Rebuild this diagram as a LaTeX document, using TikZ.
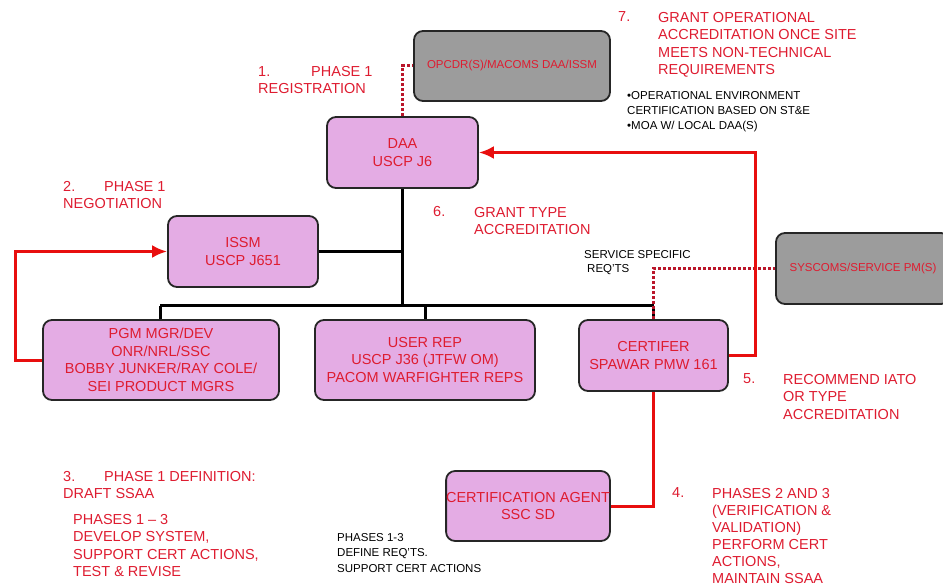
\documentclass[tikz,border=0pt]{standalone}
\usepackage{fontspec}
\setmainfont{Liberation Sans}
\usepackage{tikz}
\usetikzlibrary{arrows.meta}
\definecolor{labelred}{RGB}{222,28,48}
\definecolor{boxpink}{RGB}{228,172,228}
\definecolor{boxgrey}{RGB}{156,156,156}
\definecolor{linered}{RGB}{232,14,14}
\definecolor{dotred}{RGB}{186,22,42}
\tikzset{box/.style = {draw=black!85, line width=1.8pt, rounded corners=9pt, fill=boxpink,
                       text=labelred, align=center, inner sep=0,
                       font=\fontsize{14.5}{17.5}\selectfont}}
\tikzset{greybox/.style = {box, fill=boxgrey, font=\fontsize{11.5}{14}\selectfont}}
\tikzset{redlabel/.style = {text=labelred, align=left, anchor=north west, inner sep=0,
                            font=\fontsize{14.5}{17.5}\selectfont}}
\tikzset{numlabel/.style = {redlabel, anchor=west}}
\tikzset{note/.style = {text=black, align=left, anchor=north west, inner sep=0,
                        font=\fontsize{11.5}{15}\selectfont}}
\tikzset{tree/.style = {line width=3pt}}
\tikzset{redline/.style = {draw=linered, line width=3pt}}
\tikzset{reddots/.style = {draw=dotred, line width=3pt, dotted}}
\tikzset{redarrow/.style = {redline, -{Latex[length=15pt,width=13pt]}}}

\begin{document}
\begin{tikzpicture}[x=1pt, y=-1pt]
    \useasboundingbox (0, 0) rectangle (943, 588);

    \node [greybox, minimum width=196, minimum height=70] (opcdr) at (512, 66) {OPCDR(S)/MACOMS DAA/ISSM};
    \node [box, minimum width=151, minimum height=71] (daa) at (402.5, 152.5) {DAA\\USCP J6};
    \node [box, minimum width=150, minimum height=71] (issm) at (243, 251.5) {ISSM\\USCP J651};
    \node [box, minimum width=236, minimum height=80] (pgm) at (161, 360) {PGM MGR/DEV\\ONR/NRL/SSC\\BOBBY JUNKER/RAY COLE/\\SEI PRODUCT MGRS};
    \node [box, minimum width=220, minimum height=80] (userrep) at (425, 360) {USER REP\\USCP J36 (JTFW OM)\\PACOM WARFIGHTER REPS};
    \node [box, minimum width=149, minimum height=71] (certifer) at (653.5, 355.5) {CERTIFER\\SPAWAR PMW 161};
    \node [greybox, minimum width=174, minimum height=71] (syscoms) at (863, 268.5) {SYSCOMS/SERVICE PM(S)};
    \node [box, minimum width=162, minimum height=70] (agent) at (528, 506) {CERTIFICATION AGENT\\SSC SD};

    \coordinate (busleft) at (160, 306);
    \coordinate (busright) at (653.5, 306);
    \coordinate (redup) at (755, 152.5);
    \coordinate (redleft) at (15, 251.5);

    \draw [tree] (daa.south) -- (daa.south |- busleft);
    \draw [tree] (issm.east) -- (issm.east -| daa.south);
    \draw [tree] (busleft) -- (busright);
    \draw [tree] (busleft) -- (busleft |- pgm.north);
    \draw [tree] (userrep.north) -- (userrep.north |- busleft);
    \draw [tree] (busright) -- (certifer.north);

    \draw [reddots] (daa.north) |- (opcdr.west);
    \draw [reddots] (certifer.north) |- (syscoms.west);

    \draw [redarrow] (certifer.east) -| (redup) -- (daa.east);
    \draw [redarrow, {Latex[length=15pt,width=13pt]}-] (issm.west) -- (redleft) |- (pgm.west);
    \draw [redline] (certifer.south) |- (agent.east);

    \node [redlabel] (phase1reg) at (258, 66) {\makebox[53pt][l]{1.}PHASE 1\\REGISTRATION};
    \node [redlabel] (phase1neg) at (63, 181) {\makebox[41pt][l]{2.}PHASE 1\\NEGOTIATION};
    \node [redlabel] (phase1def) at (63, 471) {\makebox[41pt][l]{3.}PHASE 1 DEFINITION:\\DRAFT SSAA};
    \node [redlabel] (develop) at (73, 514) {PHASES 1 – 3\\DEVELOP SYSTEM,\\SUPPORT CERT ACTIONS,\\TEST \& REVISE};
    \node [numlabel] (num4) at (672, 493) {4.};
    \node [redlabel, font=\fontsize{14.5}{17}\selectfont] (perform) at (712, 488) {PHASES 2 AND 3\\(VERIFICATION \&\\VALIDATION)\\PERFORM CERT\\ACTIONS,\\MAINTAIN SSAA};
    \node [numlabel] (num5) at (743, 379) {5.};
    \node [redlabel] (recommend) at (783, 374) {RECOMMEND IATO\\OR TYPE\\ACCREDITATION};
    \node [numlabel] (num6) at (433, 212) {6.};
    \node [redlabel] (granttype) at (474, 207) {GRANT TYPE\\ACCREDITATION};
    \node [numlabel] (num7) at (618, 17) {7.};
    \node [redlabel] (grantop) at (658, 12) {GRANT OPERATIONAL\\ACCREDITATION ONCE SITE\\MEETS NON-TECHNICAL\\REQUIREMENTS};

    \node [note] (opnote) at (627, 91) {\textbullet OPERATIONAL ENVIRONMENT\\CERTIFICATION BASED ON ST\&E\\\textbullet MOA W/ LOCAL DAA(S)};
    \node [note, font=\fontsize{11.5}{14}\selectfont] (reqts) at (584, 250) {SERVICE SPECIFIC\\\hspace*{3pt}REQ'TS};
    \node [note, font=\fontsize{11.5}{15.5}\selectfont] (agentnote) at (337, 533) {PHASES 1-3\\DEFINE REQ'TS.\\SUPPORT CERT ACTIONS};
\end{tikzpicture}
\end{document}
